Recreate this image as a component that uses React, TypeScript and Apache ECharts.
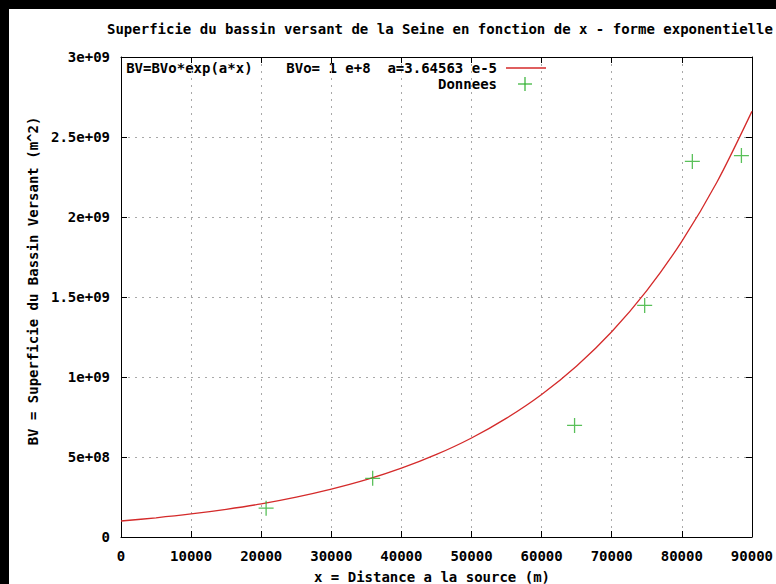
import React, { useEffect, useRef } from "react";
import * as echarts from "echarts";

const TITLE = "Superficie du bassin versant de la Seine en fonction de x - forme exponentielle";
const X_NAME = "x = Distance a la source (m)";
const Y_NAME = "BV = Superficie du Bassin Versant (m^2)";
const FIT_LABEL = "BV=BVo*exp(a*x)    BVo= 1 e+8  a=3.64563 e-5";
const DATA_LABEL = "Donnees";

// Fitted curve BV = BVo*exp(a*x)
const fitX = [0, 5000, 10000, 15000, 20000, 25000, 30000, 35000, 40000, 45000, 50000, 55000, 60000, 65000, 70000, 75000, 80000, 85000, 90000];
const fitY = [1.0e8, 1.2e8, 1.44e8, 1.73e8, 2.07e8, 2.49e8, 2.99e8, 3.58e8, 4.30e8, 5.16e8, 6.19e8, 7.43e8, 8.91e8, 1.069e9, 1.283e9, 1.540e9, 1.848e9, 2.217e9, 2.660e9];

// Measured data points ("Donnees")
const dataX = [20700, 35900, 64700, 74700, 81500, 88500];
const dataY = [1.8e8, 3.67e8, 6.97e8, 1.447e9, 2.347e9, 2.384e9];

const yTickLabels = ["0", "5e+08", "1e+09", "1.5e+09", "2e+09", "2.5e+09", "3e+09"];
const xTickLabels = ["0", "10000", "20000", "30000", "40000", "50000", "60000", "70000", "80000", "90000"];

const FONT = "DejaVu Sans Mono";
const RED = "#d42a2a";
const GREEN = "#2fb02f";
const PLUS = "path://M0,6.4H14V7.6H0Z M6.4,0H7.6V14H6.4Z";

export default function App() {
  const ref = useRef<HTMLDivElement>(null);
  useEffect(() => {
    document.body.style.margin = "0";
    const chart = echarts.init(ref.current!, null, { renderer: "svg" });
    const txt = { fontFamily: FONT, fontSize: 14, fontWeight: "bold" as const, color: "#000" };
    const split = { show: true, lineStyle: { color: "#a8a8a8", type: [2, 5] as any, width: 1 } };
    const baseX = {
      type: "value" as const,
      min: 0,
      max: 90000,
      interval: 10000,
      axisLine: { show: true, onZero: false, lineStyle: { color: "#000", width: 1 } },
      axisTick: { show: true, inside: true, length: 6, lineStyle: { color: "#000" } },
    };
    const baseY = {
      type: "value" as const,
      min: 0,
      max: 3e9,
      interval: 5e8,
      axisLine: { show: true, onZero: false, lineStyle: { color: "#000", width: 1 } },
      axisTick: { show: true, inside: true, length: 6, lineStyle: { color: "#000" } },
    };
    chart.setOption({
      animation: false,
      backgroundColor: "#fff",
      grid: { left: 121, top: 57, width: 635, height: 480 },
      title: {
        text: TITLE,
        left: 107,
        top: 22,
        padding: 0,
        textStyle: { ...txt },
      },
      xAxis: [
        {
          ...baseX,
          position: "bottom",
          splitLine: split,
          axisLabel: {
            ...txt,
            margin: 12,
            formatter: (v: number) => xTickLabels[Math.round(v / 10000)] ?? "",
          },
        },
        { ...baseX, position: "top", splitLine: { show: false }, axisLabel: { show: false } },
      ],
      yAxis: [
        {
          ...baseY,
          position: "left",
          splitLine: split,
          axisLabel: {
            ...txt,
            margin: 11,
            formatter: (v: number) => yTickLabels[Math.round(v / 5e8)] ?? "",
          },
        },
        { ...baseY, position: "right", splitLine: { show: false }, axisLabel: { show: false } },
      ],
      series: [
        {
          type: "line",
          name: FIT_LABEL,
          data: fitX.map((x, i) => [x, fitY[i]]),
          smooth: 0.3,
          showSymbol: false,
          symbol: "none",
          lineStyle: { color: RED, width: 1.3 },
          z: 3,
        },
        {
          type: "scatter",
          name: DATA_LABEL,
          data: dataX.map((x, i) => [x, dataY[i]]),
          symbol: PLUS,
          symbolSize: 15,
          itemStyle: { color: GREEN },
          z: 4,
        },
      ],
      graphic: [
        { type: "rect", left: 0, top: 0, shape: { width: 9, height: 584 }, style: { fill: "#000" } },
        { type: "rect", left: 0, top: 0, shape: { width: 776, height: 9 }, style: { fill: "#000" } },
        {
          type: "text",
          x: 33,
          y: 281,
          rotation: Math.PI / 2,
          style: { text: Y_NAME, font: `bold 14px "${FONT}"`, fill: "#000", align: "center", verticalAlign: "middle" },
        },
        {
          type: "text",
          x: 432,
          y: 577,
          style: { text: X_NAME, font: `bold 14px "${FONT}"`, fill: "#000", align: "center", verticalAlign: "middle" },
        },
        {
          type: "text",
          x: 497,
          y: 68,
          style: { text: FIT_LABEL, font: `bold 14px "${FONT}"`, fill: "#000", align: "right", verticalAlign: "middle" },
        },
        {
          type: "line",
          shape: { x1: 506, y1: 68, x2: 546, y2: 68 },
          style: { stroke: RED, lineWidth: 1.3 },
        },
        {
          type: "text",
          x: 497,
          y: 84,
          style: { text: DATA_LABEL, font: `bold 14px "${FONT}"`, fill: "#000", align: "right", verticalAlign: "middle" },
        },
        { type: "line", shape: { x1: 518, y1: 84, x2: 532, y2: 84 }, style: { stroke: GREEN, lineWidth: 1.2 } },
        { type: "line", shape: { x1: 525, y1: 77, x2: 525, y2: 91 }, style: { stroke: GREEN, lineWidth: 1.2 } },
      ],
    });
    return () => chart.dispose();
  }, []);
  return <div ref={ref} style={{ position: "absolute", left: 0, top: 0, width: 776, height: 584 }} />;
}
